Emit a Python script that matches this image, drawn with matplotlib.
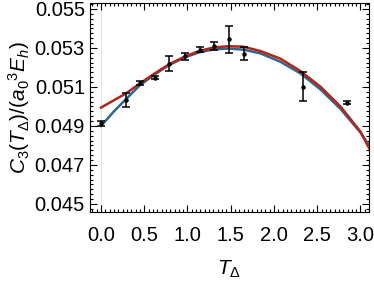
import numpy as np
import matplotlib.pyplot as plt
from matplotlib.ticker import MultipleLocator

plt.rcParams['font.family'] = ['Liberation Sans', 'DejaVu Sans']
plt.rcParams['mathtext.fontset'] = 'custom'
plt.rcParams['mathtext.rm'] = 'Liberation Sans'
plt.rcParams['mathtext.it'] = 'Liberation Sans:italic'

# measured points with error bars
t_data = [0.0, 0.29, 0.45, 0.62, 0.79, 0.97, 1.14, 1.31, 1.48, 1.65, 2.33, 2.84]
c3_data = [0.04914, 0.05033, 0.05121, 0.05147, 0.0522, 0.05258, 0.05291, 0.0531,
           0.05344, 0.05271, 0.05101, 0.05019]
c3_err = [0.00012, 0.00038, 0.0001, 0.00008, 0.0004, 0.00018, 0.00013, 0.0002,
          0.00069, 0.00034, 0.00075, 0.00008]

# fitted curves
t_fit = [0.0, 0.15, 0.29, 0.45, 0.62, 0.79, 0.97, 1.14, 1.31, 1.48, 1.65, 1.844,
         2.075, 2.307, 2.538, 2.77, 3.0, 3.1]
blue_fit = [0.0490, 0.04975, 0.05038, 0.05109, 0.05164, 0.05213, 0.05252, 0.05278,
            0.05293, 0.05297, 0.05291, 0.05272, 0.05229, 0.05169, 0.05087, 0.04987,
            0.04866, 0.0480]
red_fit = [0.04994, 0.05032, 0.05067, 0.05118, 0.05169, 0.05217, 0.05256, 0.05285,
           0.05303, 0.05309, 0.05306, 0.05284, 0.05245, 0.05181, 0.05101, 0.04999,
           0.04871, 0.04786]

fig = plt.figure(figsize=(3.74, 2.81), dpi=100)
ax = fig.add_axes([0.24, 0.245, 0.747, 0.744])

ax.axvline(0, color='#e6e6e6', linewidth=0.8, zorder=0)
ax.plot(t_fit, blue_fit, color='#2a6890', linewidth=1.8, zorder=2,
        solid_joinstyle='round')
ax.plot(t_fit, red_fit, color='#b3241c', linewidth=1.8, zorder=3,
        solid_joinstyle='round')
ax.errorbar(t_data, c3_data, yerr=c3_err, fmt='o', color='black', markersize=2.2,
            elinewidth=1.1, capsize=2.8, capthick=1.1, zorder=4)

ax.set_xlim(-0.13, 3.1)
ax.set_ylim(0.04458, 0.0553)
ax.xaxis.set_major_locator(MultipleLocator(0.5))
ax.xaxis.set_minor_locator(MultipleLocator(0.05))
ax.yaxis.set_minor_locator(MultipleLocator(0.00025))
ax.set_yticks(np.arange(0.045, 0.0555, 0.002))
ax.set_yticklabels(['0.045', '0.047', '0.049', '0.051', '0.053', '0.055'])
ax.tick_params(which='both', direction='in', top=True, right=True, labelsize=14.5, width=0.8)
ax.tick_params(which='major', length=5)
ax.tick_params(which='minor', length=2.5)
ax.tick_params(axis='x', pad=10)

ax.set_xlabel(r'$T_\Delta$', fontsize=15, labelpad=10)
ax.set_ylabel(r'$C_3(T_\Delta)/(a_0{}^3E_h)$', fontsize=15, labelpad=2)

fig.savefig('out.png', dpi=100)
